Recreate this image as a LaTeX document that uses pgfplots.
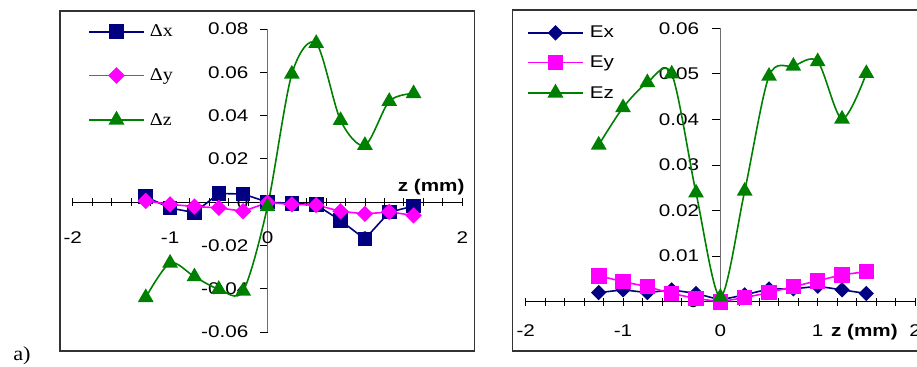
\documentclass[border=0pt]{standalone}
\usepackage{fontspec}
\setmainfont{Liberation Sans}[FakeStretch=1.22]
\newfontfamily\seriffont{Liberation Serif}[FakeStretch=1.12]
\usepackage{pgfplots}
\pgfplotsset{compat=1.18}
\definecolor{navy}{RGB}{0,0,128}
\definecolor{mag}{RGB}{255,0,255}
\definecolor{grn}{RGB}{0,128,0}
\definecolor{axgray}{RGB}{110,110,110}

\pgfplotstableread{
x dx dy dz
-1.25 0.0025 0.0006 -0.0440
-1.00 -0.0027 -0.0010 -0.0281
-0.75 -0.0048 -0.0020 -0.0344
-0.50 0.0040 -0.0026 -0.0402
-0.25 0.0038 -0.0042 -0.0410
0.00 0.0000 -0.0002 -0.0020
0.25 -0.0005 -0.0010 0.0592
0.50 -0.0012 -0.0013 0.0734
0.75 -0.0085 -0.0042 0.0378
1.00 -0.0170 -0.0054 0.0263
1.25 -0.0046 -0.0045 0.0466
1.50 -0.0018 -0.0061 0.0502
}\lefttab

\pgfplotstableread{
x ex ey ez
-1.25 0.0020 0.0057 0.0344
-1.00 0.0026 0.0044 0.0426
-0.75 0.0020 0.0033 0.0481
-0.50 0.0026 0.0018 0.0500
-0.25 0.0018 0.0007 0.0239
0.00 0.0004 0.0000 0.0010
0.25 0.0015 0.0009 0.0243
0.50 0.0028 0.0020 0.0495
0.75 0.0028 0.0033 0.0517
1.00 0.0034 0.0046 0.0527
1.25 0.0026 0.0059 0.0401
1.50 0.0018 0.0066 0.0501
}\righttab

\pgfplotsset{
  common/.style={
    scale only axis,
    axis lines=middle,
    axis line style={-},
    every inner x axis line/.append style={-},
    every inner y axis line/.append style={-},
    enlargelimits=false,
    clip=false,
    scaled y ticks=false,
    scaled x ticks=false,
    xmin=-2, xmax=2,
    xtick={-2,-1,0,1,2},
    xticklabels={-2,-1,0,1,2},
    minor x tick num=4,
    xtick align=center,
    ytick align=outside,
    major tick length=8bp,
    minor tick length=8bp,
    hide obscured x ticks=false,
    hide obscured y ticks=false,
    x axis line style={line width=0.8bp, black},
    y axis line style={line width=0.8bp, axgray},
    every tick/.style={line width=0.8bp, black},
    ticklabel style={font=\fontsize{17}{20}\selectfont},
    xticklabel style={anchor=center, yshift=-31bp},
    yticklabel style={anchor=east, inner sep=0pt, xshift=-11bp},
    legend image code/.code={\draw[##1, line width=1.8bp, mark repeat=2, mark phase=2] plot coordinates {(0bp,0bp) (27.5bp,0bp) (55bp,0bp)};},
  }
}

\begin{document}
\begin{tikzpicture}
% chart frames
\draw[line width=1.4bp, black!80] (60bp,16bp) rectangle (474.7bp,356bp);
\draw[line width=1.4bp, black!80] (512.3bp,16bp) rectangle (935bp,357bp);
\node[font=\seriffont\fontsize{20}{22}\selectfont, anchor=center] at (22bp,11bp) {a)};

\begin{axis}[common,
  at={(72.7bp,34.9bp)}, anchor=south west,
  width=389.6bp, height=303.1bp,
  ymin=-0.06, ymax=0.08,
  ytick={-0.06,-0.04,-0.02,0,0.02,0.04,0.06,0.08},
  yticklabels={-0.06,-0.04,-0.02,0,0.02,0.04,0.06,0.08},
  legend style={at={(0.039,1.0136)}, anchor=north west, draw=none, fill=none,
    inner sep=0pt, row sep=30bp, font=\seriffont\fontsize{18}{20}\selectfont,
    legend cell align=left,
    nodes={inner sep=0pt}},
]
\addplot[navy, line width=1.6bp, mark=square*, mark size=6.5bp] table[x=x,y=dx]{\lefttab};
\addlegendentry{\hspace{5bp}Δx}
\addplot[mag, line width=1.6bp, mark=square*, mark size=5bp, mark options={rotate=45}] table[x=x,y=dy]{\lefttab};
\addlegendentry{\hspace{5bp}Δy}
\addplot[grn, line width=1.6bp, smooth, mark=triangle*, mark size=7.5bp] table[x=x,y=dz]{\lefttab};
\addlegendentry{\hspace{5bp}Δz}
\node[font=\bfseries\fontsize{17}{20}\selectfont] at (axis cs:1.68,0.007) {z (mm)};
\end{axis}

\begin{axis}[common,
  at={(525.7bp,65.3bp)}, anchor=south west,
  width=389.3bp, height=273.4bp,
  ymin=0, ymax=0.06,
  ytick={0,0.01,0.02,0.03,0.04,0.05,0.06},
  yticklabels={0,0.01,0.02,0.03,0.04,0.05,0.06},
  yticklabel style={xshift=-2bp},
  xticklabel style={yshift=6bp},
  legend style={at={(0.003,1.008)}, anchor=north west, draw=none, fill=none,
    inner sep=0pt, row sep=16bp, font=\fontsize{17}{20}\selectfont,
    legend cell align=left,
    nodes={inner sep=0pt}},
]
\addplot[navy, line width=1.6bp, mark=square*, mark size=4.6bp, mark options={rotate=45}] table[x=x,y=ex]{\righttab};
\addlegendentry{\hspace{6bp}Ex}
\addplot[mag, line width=1.6bp, mark=square*, mark size=7bp] table[x=x,y=ey]{\righttab};
\addlegendentry{\hspace{6bp}Ey}
\addplot[grn, line width=1.6bp, smooth, mark=triangle*, mark size=7.5bp] table[x=x,y=ez]{\righttab};
\addlegendentry{\hspace{6bp}Ez}
\node[font=\bfseries\fontsize{17}{20}\selectfont] at (axis cs:1.48,-0.00665) {z (mm)};
\end{axis}
\pgfresetboundingbox
\useasboundingbox (0bp,0bp) rectangle (917bp,367bp);
\end{tikzpicture}
\end{document}
